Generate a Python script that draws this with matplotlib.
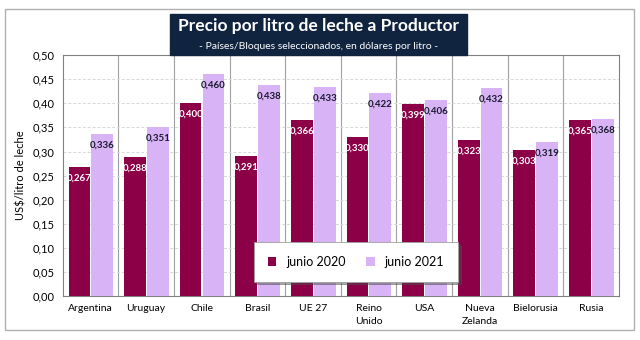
import numpy as np
import matplotlib.pyplot as plt
from matplotlib.patches import Rectangle

plt.rcParams['font.family'] = ['Lato', 'DejaVu Sans']

paises = ['Argentina', 'Uruguay', 'Chile', 'Brasil', 'UE 27', 'Reino\nUnido',
          'USA', 'Nueva\nZelanda', 'Bielorusia', 'Rusia']
junio_2020 = [0.267, 0.288, 0.400, 0.291, 0.366, 0.330, 0.399, 0.323, 0.303, 0.365]
junio_2021 = [0.336, 0.351, 0.460, 0.438, 0.433, 0.422, 0.406, 0.432, 0.319, 0.368]

c20 = '#8c0048'
c21 = '#d8b4f6'

fig = plt.figure(figsize=(6.4, 3.4), dpi=100)
fig.patches.append(Rectangle((0.008, 0.03), 0.982, 0.945, transform=fig.transFigure,
                             fill=False, edgecolor='#b0b0b0', lw=1))

ax = fig.add_axes([0.098, 0.129, 0.869, 0.709])
x = np.arange(len(paises))
w = 0.39
b1 = ax.bar(x - w / 2 - 0.005, junio_2020, w, color=c20, label='junio 2020', zorder=3)
b2 = ax.bar(x + w / 2 + 0.015, junio_2021, w, color=c21, label='junio 2021', zorder=3)

for r, v in zip(b1, junio_2020):
    ax.text(r.get_x() + r.get_width() / 2, v - 0.023, f'{v:.3f}'.replace('.', ','),
            ha='center', va='center', color='white', fontsize=7, fontweight='bold', zorder=4)
for r, v in zip(b2, junio_2021):
    ax.text(r.get_x() + r.get_width() / 2, v - 0.023, f'{v:.3f}'.replace('.', ','),
            ha='center', va='center', color='#1a1a2e', fontsize=7, fontweight='bold', zorder=4)

ax.set_xlim(-0.5, len(paises) - 0.5)
ax.set_ylim(0, 0.5)
ax.set_yticks(np.arange(0, 0.51, 0.05))
ax.set_yticklabels([f'{t:.2f}'.replace('.', ',') for t in np.arange(0, 0.51, 0.05)], fontsize=8)
ax.set_xticks(x)
ax.set_xticklabels(paises, fontsize=7.5, linespacing=1.5)
ax.tick_params(length=0, pad=6)
ax.set_ylabel('US$/litro de leche', fontsize=8)

ax.grid(axis='y', color='#d8d8d8', ls=(0, (3, 2)), lw=0.7, zorder=0)
for xi in np.arange(0.5, len(paises) - 1, 1):
    ax.axvline(xi, color='#a0a0a0', lw=0.8, zorder=1)
for s in ax.spines.values():
    s.set_color('#808080')

leg = ax.legend(loc='lower center', bbox_to_anchor=(0.527, 0.06), ncol=2, fontsize=9,
                frameon=True, fancybox=False, edgecolor='#a0a0a0', handlelength=0.7,
                handleheight=0.7, columnspacing=1.6, borderpad=1.1, borderaxespad=0,
                shadow=True)
leg.get_frame().set_linewidth(0.6)

fig.patches.append(Rectangle((0.266, 0.838), 0.464, 0.122, transform=fig.transFigure,
                             color='#10233f', zorder=5))
fig.text(0.498, 0.925, 'Precio por litro de leche a Productor', ha='center', va='center',
         color='white', fontsize=12.5, fontweight='bold', zorder=6)
fig.text(0.498, 0.862, '- Países/Bloques seleccionados, en dólares por litro -', ha='center',
         va='center', color='white', fontsize=7.5, zorder=6)

fig.savefig('out.png', dpi=100)
